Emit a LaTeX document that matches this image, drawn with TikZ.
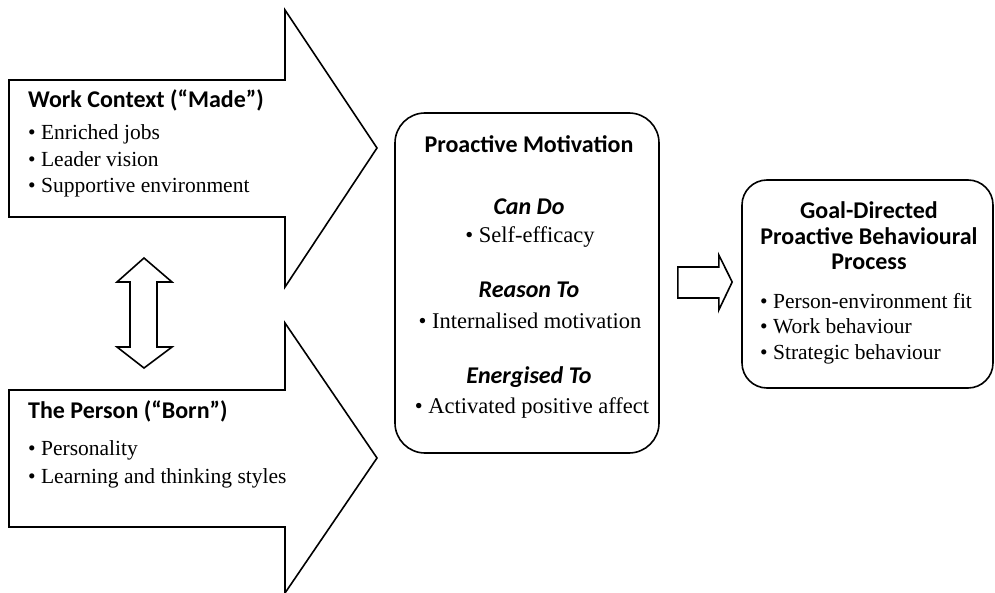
\documentclass[tikz,border=0pt]{standalone}
\usepackage{fontspec}
\setmainfont{Liberation Serif}
\newfontfamily\calib{Carlito}
\usetikzlibrary{calc,positioning}

\tikzset{
  blockarrow/.style={draw, line width=1.6pt, line join=miter, fill=white},
  panel/.style={draw, line width=1.6pt, fill=white},
  headtxt/.style={inner sep=0pt, font=\calib\bfseries\fontsize{24}{28}\selectfont},
  subtxt/.style={inner sep=0pt, font=\calib\bfseries\itshape\fontsize{24}{28}\selectfont},
  itemtxt/.style={inner sep=0pt, anchor=base west, font=\fontsize{21.5}{26}\selectfont},
  midtxt/.style={inner sep=0pt, anchor=base, font=\fontsize{22.5}{26}\selectfont}
}

\begin{document}
\begin{tikzpicture}[x=1pt,y=-1pt]
  \useasboundingbox (0,0) rectangle (995,593);

  % the two big arrows
  \draw[blockarrow] (9,80) -- (285,80) -- (285,10) -- (377,148) -- (285,287) -- (285,217) -- (9,217) -- cycle;
  \draw[blockarrow] (9,390) -- (285,390) -- (285,323) -- (377,458) -- (285,593) -- (285,527) -- (9,527) -- cycle;

  % double arrow between them
  \draw[blockarrow] (130,282) -- (117,282) -- (144,258) -- (172,282) -- (157,282) -- (157,347)
    -- (172,347) -- (144,368) -- (117,347) -- (130,347) -- cycle;

  % boxes
  \node[panel, minimum width=264pt, minimum height=340pt, rounded corners=30pt] (mot) at (527,283) {};
  \node[panel, minimum width=251pt, minimum height=208pt, rounded corners=25pt] (goal) at (867.5,284) {};

  % small arrow from motivation to process
  \draw[blockarrow] ($(mot.east)+(18,-16)$) -- ++(41,0) -- ++(0,-12) -- ($(goal.west)+(-9,-2)$)
    -- ($(mot.east)+(59,27)$) -- ++(0,-12) -- ++(-41,0) -- cycle;

  % work context
  \node[headtxt, anchor=base west] (work) at (28,108) {Work Context (“Made”)};
  \foreach \txt [count=\i] in {Enriched jobs, Leader vision, Supportive environment}
    \node[itemtxt] (work\i) at (28,{113.5+26.5*\i}) {\textbullet\ \txt};

  % the person
  \node[headtxt, anchor=base west] (person) at (28,418) {The Person (“Born”)};
  \foreach \txt [count=\i] in {Personality, Learning and thinking styles}
    \node[itemtxt] (person\i) at (28,{427+28*\i}) {\textbullet\ \txt};

  % proactive motivation
  \node[headtxt, anchor=base] (motT) at (529,153) {Proactive Motivation};
  \node[subtxt, anchor=base] (can) at (529,215) {Can Do};
  \node[midtxt] (can1) at (530,243) {\textbullet\ Self-efficacy};
  \node[subtxt, anchor=base] (reason) at (529,298) {Reason To};
  \node[midtxt] (reason1) at (530,328) {\textbullet\ Internalised motivation};
  \node[subtxt, anchor=base] (energ) at (529,383) {Energised To};
  \node[midtxt] (energ1) at (532,413) {\textbullet\ Activated positive affect};

  % goal-directed process
  \node[headtxt, anchor=base] (goalA) at (869,219) {Goal-Directed};
  \node[headtxt, anchor=base] (goalB) at (869,245) {Proactive Behavioural};
  \node[headtxt, anchor=base] (goalC) at (869,270) {Process};
  \foreach \txt [count=\i] in {Person-environment fit, Work behaviour, Strategic behaviour}
    \node[itemtxt] (goal\i) at (760,{283+25.5*\i}) {\textbullet\ \txt};
\end{tikzpicture}
\end{document}
